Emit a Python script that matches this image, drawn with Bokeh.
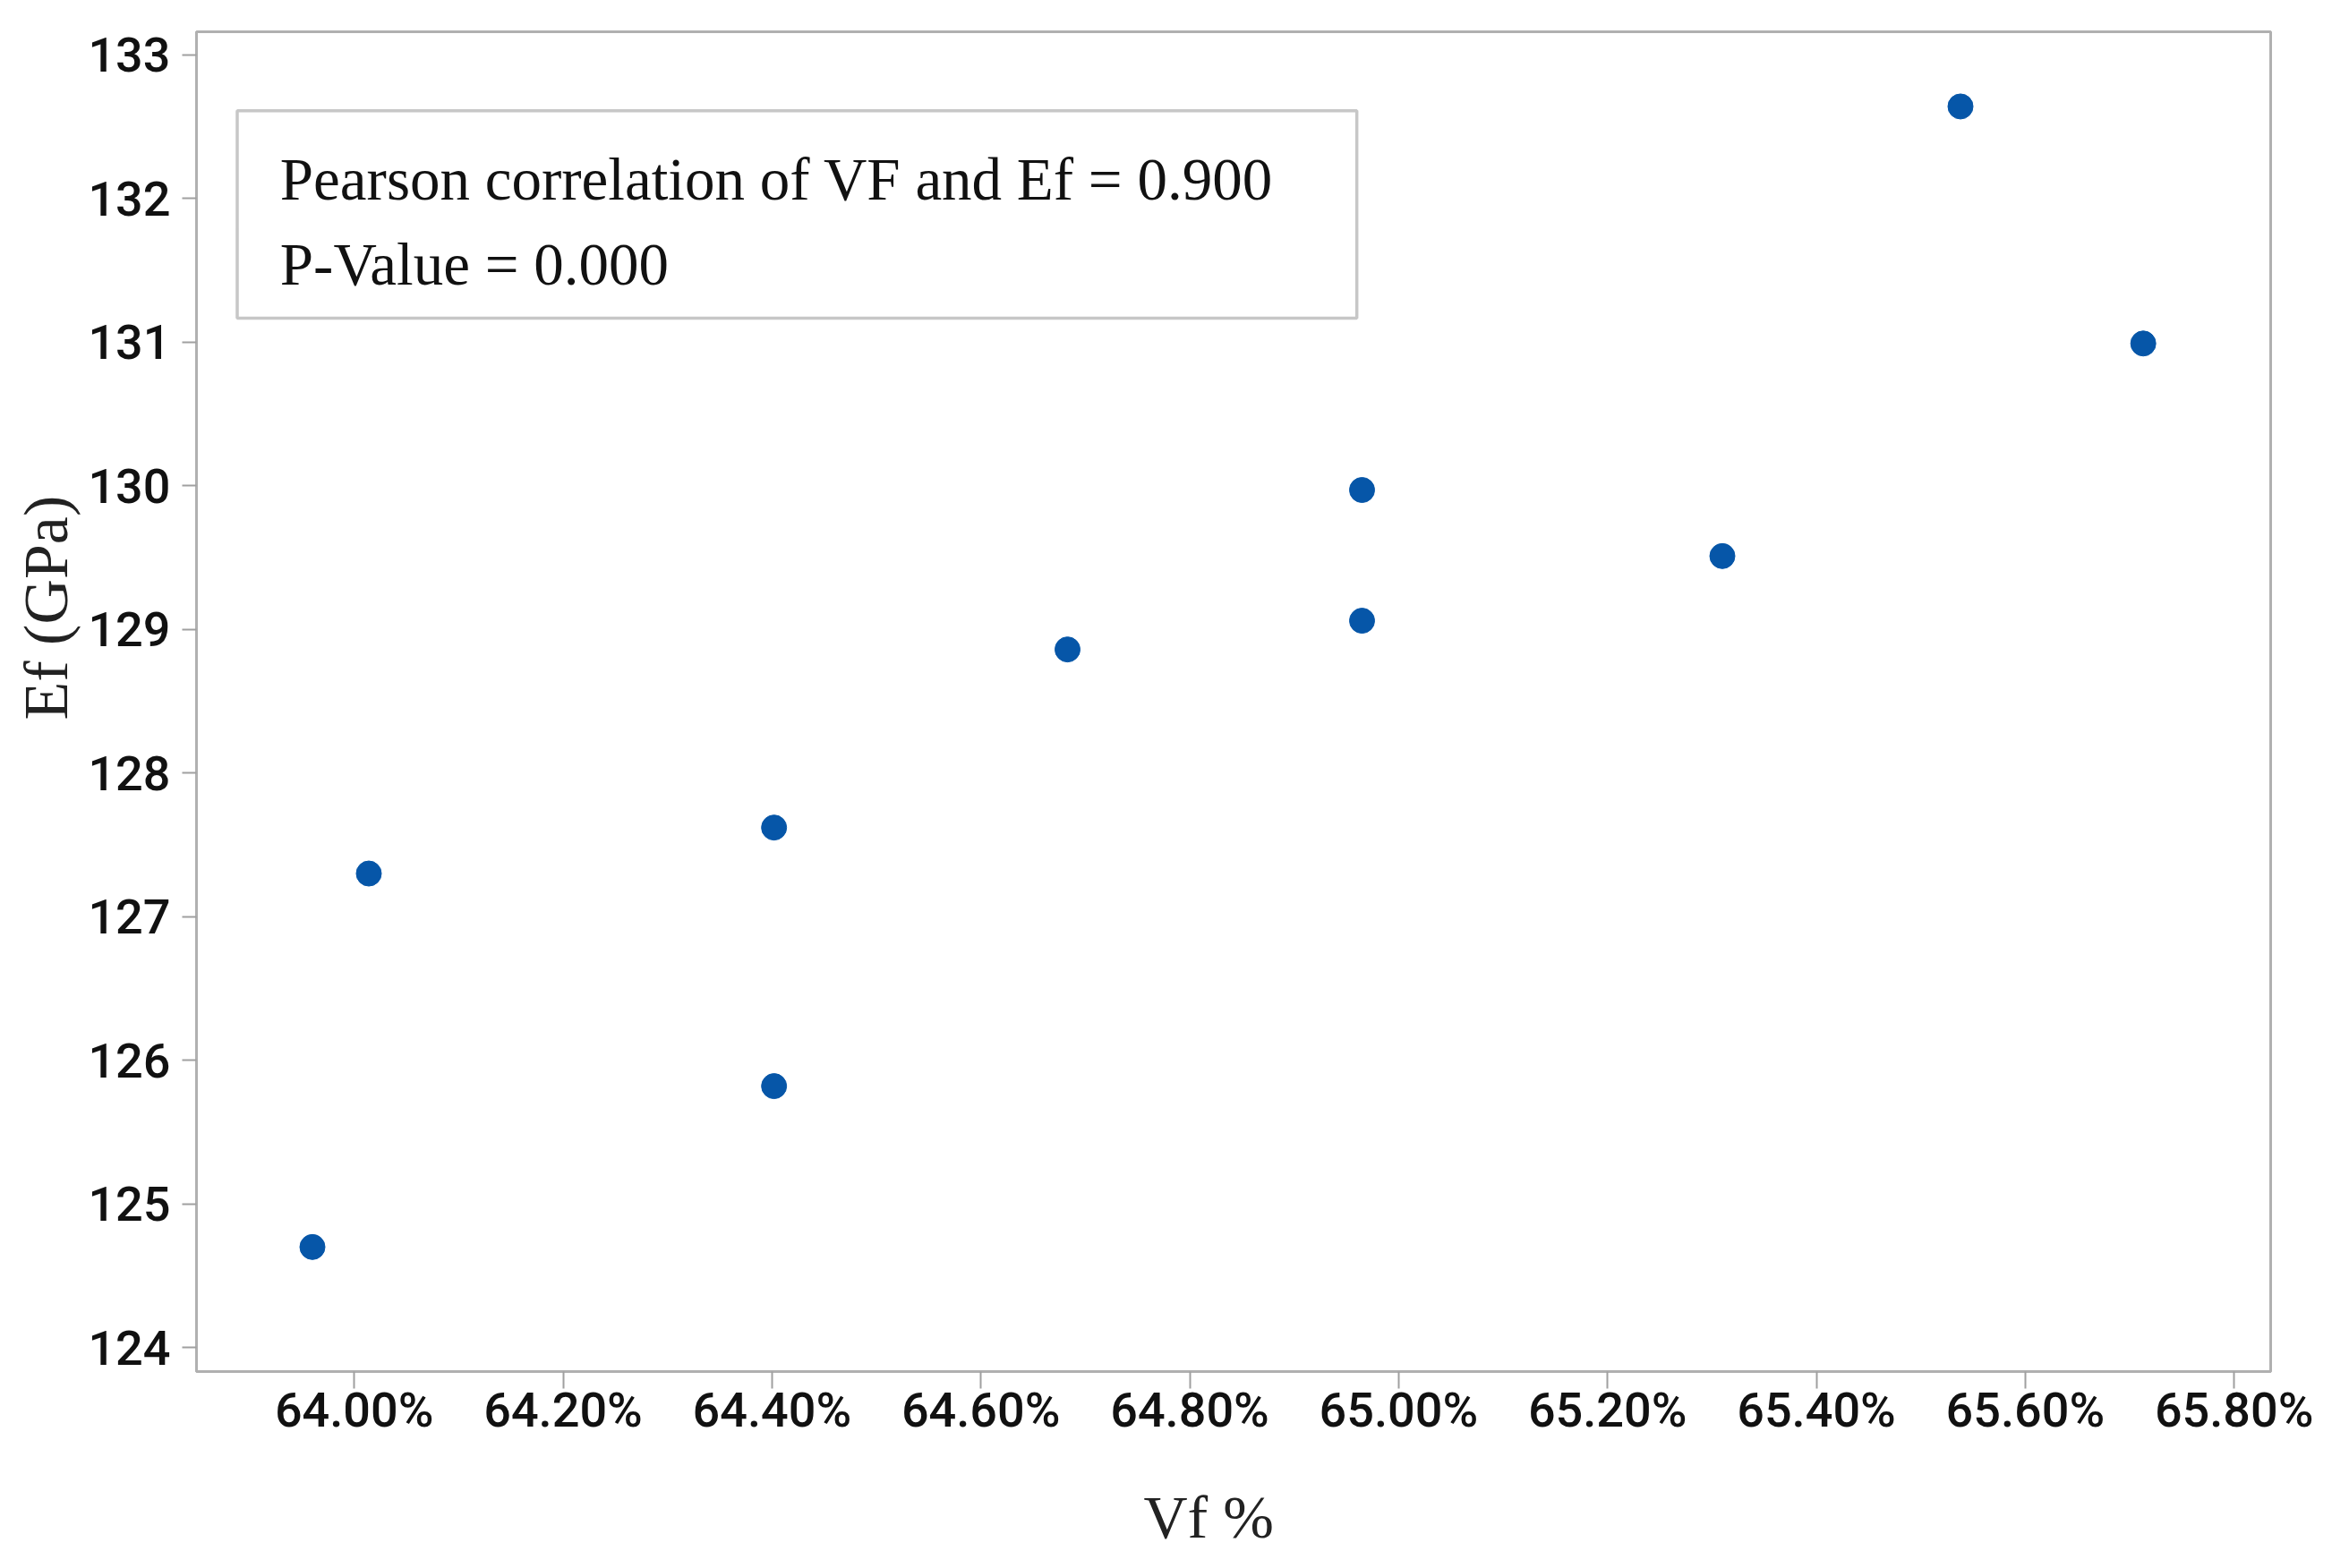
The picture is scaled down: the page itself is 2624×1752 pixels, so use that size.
from bokeh.plotting import figure
from bokeh.models import FixedTicker, PrintfTickFormatter, BoxAnnotation, Label, Range1d, Title
from bokeh.embed import file_html
from bokeh.resources import INLINE

# data (Vf in percent, Ef in GPa)
vf = [63.960, 64.014, 64.402, 64.402, 64.683, 64.965, 64.965, 65.310, 65.538, 65.713]
ef = [124.70, 127.30, 127.62, 125.82, 128.86, 129.97, 129.06, 129.51, 132.64, 130.99]
x_ticks = [64.0, 64.2, 64.4, 64.6, 64.8, 65.0, 65.2, 65.4, 65.6, 65.8]
y_ticks = [124, 125, 126, 127, 128, 129, 130, 131, 132, 133]
stat_lines = ["Pearson correlation of VF and Ef = 0.900", "P-Value = 0.000"]
x_title = "Vf %"
y_title = "Ef (GPa)"

p = figure(frame_width=2317, frame_height=1497, output_backend="svg", toolbar_location=None,
           min_border_left=219, min_border_top=35, min_border_right=50, min_border_bottom=200,
           x_range=Range1d(63.849, 65.835), y_range=Range1d(123.833, 133.16))
p.background_fill_color = "white"
p.border_fill_color = "white"
p.outline_line_color = "#b0b0b0"
p.outline_line_width = 3
p.xgrid.visible = False
p.ygrid.visible = False

p.scatter(vf, ef, size=28, color="#0656a8", line_color="#0656a8")

tick_font = "'Roboto Medium', Roboto"
p.xaxis.ticker = FixedTicker(ticks=x_ticks)
p.xaxis.formatter = PrintfTickFormatter(format="%.2f%%")
p.yaxis.ticker = FixedTicker(ticks=y_ticks)
for ax in (p.xaxis[0], p.yaxis[0]):
    ax.axis_line_color = "#b0b0b0"
    ax.axis_line_width = 3
    ax.major_tick_line_color = "#a0a0a0"
    ax.major_tick_line_width = 2
    ax.minor_tick_line_color = None
    ax.major_tick_in = 0
    ax.major_label_text_font = tick_font
    ax.major_label_text_font_size = "54px"
    ax.major_label_text_font_style = "normal"
    ax.major_label_text_color = "#111111"
p.xaxis.major_tick_out = 19
p.xaxis.major_label_standoff = -8
p.yaxis.major_tick_out = 16
p.yaxis.major_label_standoff = 13

title_kw = dict(text_font="Liberation Serif", text_font_style="normal",
                text_color="#222222", align="left")
p.add_layout(Title(text=x_title, offset=1058, standoff=90, text_font_size="68px", **title_kw), "below")
p.add_layout(Title(text=y_title, offset=728, standoff=11, text_font_size="70px", **title_kw), "left")

box = BoxAnnotation(left=63.888, right=64.960, bottom=131.166, top=132.61,
                    fill_color=None, fill_alpha=0, line_color="#444444", line_width=3.5)
p.add_layout(box)
for txt, yy in zip(stat_lines, [132.138, 131.543]):
    p.add_layout(Label(x=63.929, y=yy, text=txt, text_baseline="middle", text_align="left",
                       text_font="Liberation Serif", text_font_size="67px", text_color="#111111"))

open("out.html", "w").write(file_html(p, INLINE))
